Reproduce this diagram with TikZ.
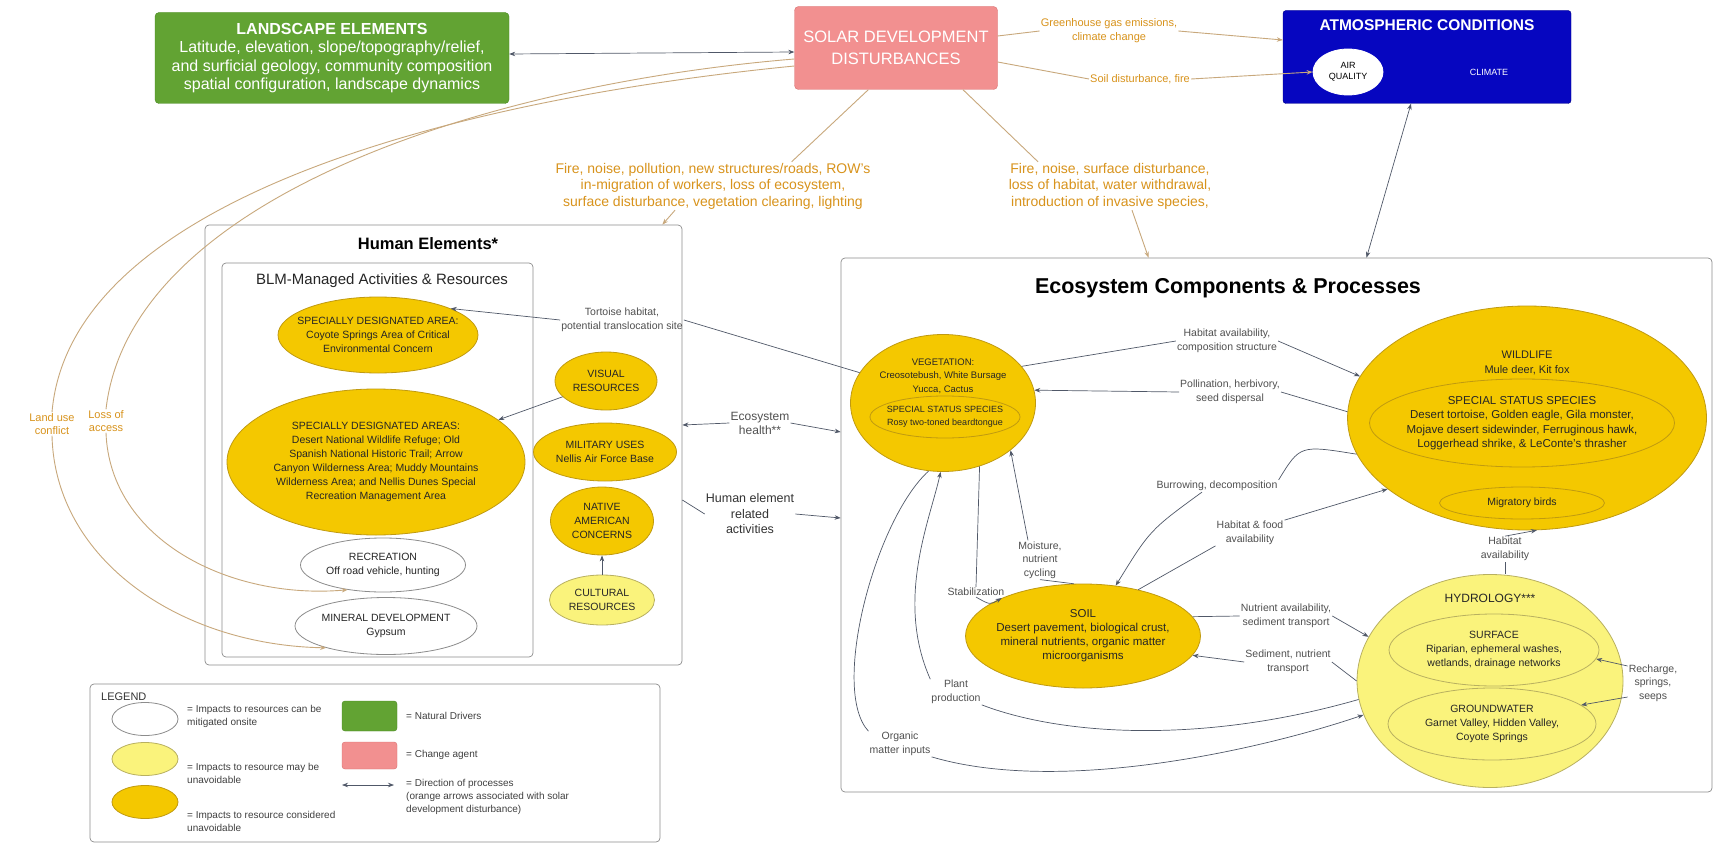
\documentclass[tikz,border=0pt]{standalone}
\usepackage{fontspec}
\setmainfont{Liberation Sans}
\usetikzlibrary{arrows.meta,shapes.geometric,calc}
\definecolor{landgreen}{HTML}{62A333}
\definecolor{landgreenD}{HTML}{4A8A22}
\definecolor{solarpink}{HTML}{F29090}
\definecolor{solarpinkD}{HTML}{D87070}
\definecolor{atmblue}{HTML}{0606C0}
\definecolor{goldfill}{HTML}{F4C800}
\definecolor{goldline}{HTML}{C09A10}
\definecolor{lyfill}{HTML}{FAF37C}
\definecolor{lyline}{HTML}{B8B060}
\definecolor{orangetxt}{HTML}{D8931C}
\definecolor{tanline}{HTML}{C8A87C}
\definecolor{ecoline}{HTML}{505868}
\definecolor{graytxt}{HTML}{505050}
\definecolor{boxgray}{HTML}{8C8C8C}
\begin{document}
\begin{tikzpicture}[x=1pt,y=-1pt,
  every node/.style={inner sep=1pt},
  ell/.style={ellipse, draw, inner sep=0pt, line width=0.8pt},
  goldell/.style={ell, fill=goldfill, draw=goldline},
  lyell/.style={ell, fill=lyfill, draw=lyline},
  whell/.style={ell, fill=white, draw=boxgray},
  etxt/.style={align=center, font=\fontsize{10.5}{14}\selectfont, text=black!85},
  olab/.style={align=center, font=\fontsize{14}{16.5}\selectfont, text=orangetxt},
  glab/.style={align=center, font=\fontsize{10.5}{13.5}\selectfont, text=graytxt},
  legtxt/.style={align=left, font=\fontsize{10}{13}\selectfont, text=black!75},
  frame/.style={draw=boxgray, rounded corners=4pt, line width=0.7pt},
  tconn/.style={draw=tanline, line width=0.9pt},
  econn/.style={draw=ecoline, line width=0.7pt},
  hconn/.style={draw=ecoline, line width=0.7pt},
  arr/.style={-{Stealth[length=6pt,width=4.5pt]}},
  rarr/.style={{Stealth[length=6pt,width=4.5pt]}-},
  darr/.style={{Stealth[length=6pt,width=4.5pt]}-{Stealth[length=6pt,width=4.5pt]}}
]
\useasboundingbox (0,0) rectangle (1715,845);
\fill[white] (0,0) rectangle (1715,845);

% ---------- frames ----------
\node[frame, minimum width=477pt, minimum height=440pt] (human) at (443.5,445) {};
\node[frame, minimum width=311pt, minimum height=394pt] (blm) at (377.5,460) {};
\node[frame, minimum width=871pt, minimum height=534pt] (eco) at (1276.5,525) {};
\node[frame, minimum width=570pt, minimum height=158pt] (legend) at (375,763) {};

\node[font=\bfseries\fontsize{16.5}{20}\selectfont] (humantitle) at (428,244) {Human Elements*};
\node[font=\fontsize{15}{18}\selectfont, text=black!85] (blmtitle) at (382,281) {BLM-Managed Activities \& Resources};
\node[font=\bfseries\fontsize{21.5}{25}\selectfont] (ecotitle) at (1228,288) {Ecosystem Components \& Processes};

% ---------- top boxes ----------
\node[fill=landgreen, draw=landgreenD, rounded corners=4pt, minimum width=354pt, minimum height=91pt,
      text=white, align=center, font=\fontsize{16}{18.5}\selectfont] (land) at (332,58)
  {\textbf{LANDSCAPE ELEMENTS}\\Latitude, elevation, slope/topography/relief,\\and surficial geology, community composition\\spatial configuration, landscape dynamics};
\node[fill=solarpink, draw=solarpinkD, rounded corners=4pt, minimum width=203pt, minimum height=83pt,
      text=white, align=center, font=\fontsize{16.5}{22}\selectfont] (solar) at (896,48)
  {SOLAR DEVELOPMENT\\DISTURBANCES};
\node[fill=atmblue, draw=atmblue!70!black, rounded corners=3pt, minimum width=288pt, minimum height=93pt] (atmos) at (1427,57) {};
\node[text=white, font=\bfseries\fontsize{15.5}{18}\selectfont] (atmostitle) at (1427,25) {ATMOSPHERIC CONDITIONS};
\node[ell, fill=white, draw=white, minimum width=70pt, minimum height=46pt, align=center,
      font=\fontsize{9}{11}\selectfont] (airq) at (1348,72) {AIR\\QUALITY};
\node[text=white, font=\fontsize{9}{11}\selectfont] (climate) at (1489,72) {CLIMATE};

% ---------- orange labels ----------
\node[olab, font=\fontsize{11}{14}\selectfont] (ghg) at (1109,31) {Greenhouse gas emissions,\\climate change};
\node[olab, font=\fontsize{11}{14}\selectfont] (sdist) at (1140,79) {Soil disturbance, fire};
\node[olab] (fire1) at (713,186) {Fire, noise, pollution, new structures/roads, ROW's\\in-migration of workers, loss of ecosystem,\\surface disturbance, vegetation clearing, lighting};
\node[olab] (fire2) at (1110,186) {Fire, noise, surface disturbance,\\loss of habitat, water withdrawal,\\introduction of invasive species,};
\node[olab, font=\fontsize{11}{13}\selectfont] (lac) at (52,424) {Land use\\conflict};
\node[olab, font=\fontsize{11}{13}\selectfont] (loa) at (106,421) {Loss of\\access};

% ---------- human side ----------
\node[goldell, minimum width=200pt, minimum height=76pt] (sda1) at (378,335) {};
\node[etxt] (sda1t) at (sda1) {SPECIALLY DESIGNATED AREA:\\Coyote Springs Area of Critical\\Environmental Concern};
\node[goldell, minimum width=298pt, minimum height=146pt] (sda2) at (376,462) {};
\node[etxt] (sda2t) at (sda2) {SPECIALLY DESIGNATED AREAS:\\Desert National Wildlife Refuge; Old\\Spanish National Historic Trail; Arrow\\Canyon Wilderness Area; Muddy Mountains\\Wilderness Area; and Nellis Dunes Special\\Recreation Management Area};
\node[whell, minimum width=165pt, minimum height=54pt] (rec) at (383,565) {};
\node[etxt] (rect) at (rec) {RECREATION\\Off road vehicle, hunting};
\node[whell, minimum width=182pt, minimum height=57pt] (mine) at (386,626) {};
\node[etxt] (minet) at (mine) {MINERAL DEVELOPMENT\\Gypsum};
\node[goldell, minimum width=102pt, minimum height=58pt] (vis) at (606,381) {};
\node[etxt] (vist) at (vis) {VISUAL\\RESOURCES};
\node[goldell, minimum width=143pt, minimum height=58pt] (mil) at (605,452) {};
\node[etxt] (milt) at (mil) {MILITARY USES\\Nellis Air Force Base};
\node[goldell, minimum width=103pt, minimum height=68pt] (nat) at (602,521) {};
\node[etxt] (natt) at (nat) {NATIVE\\AMERICAN\\CONCERNS};
\node[lyell, minimum width=105pt, minimum height=50pt] (cult) at (602,600) {};
\node[etxt] (cultt) at (cult) {CULTURAL\\RESOURCES};

\node[glab] (tort) at (622,320) {Tortoise habitat,\\potential translocation site};
\node[glab, font=\fontsize{12}{14}\selectfont] (eh) at (760,423) {Ecosystem\\health**};
\node[align=center, font=\fontsize{12.5}{15.5}\selectfont, text=black!80] (hera) at (750,514) {Human element\\related\\activities};

% ---------- ecosystem ----------
\node[goldell, minimum width=185pt, minimum height=137pt] (veg) at (943,403) {};
\node[etxt, font=\fontsize{9.5}{13.5}\selectfont] (vegt) at (943,376) {VEGETATION:\\Creosotebush, White Bursage\\Yucca, Cactus};
\node[goldell, minimum width=150pt, minimum height=42pt] (vegss) at (945,417) {};
\node[etxt, font=\fontsize{9}{12.5}\selectfont] (vegsst) at (vegss) {SPECIAL STATUS SPECIES\\Rosy two-toned beardtongue};

\node[goldell, minimum width=359pt, minimum height=224pt] (wild) at (1527,418) {};
\node[etxt, font=\fontsize{11}{14.5}\selectfont] (wildt) at (1527,363) {WILDLIFE\\Mule deer, Kit fox};
\node[goldell, minimum width=305pt, minimum height=88pt] (wildss) at (1522,423) {};
\node[etxt, font=\fontsize{11.5}{14.5}\selectfont] (wildsst) at (wildss) {SPECIAL STATUS SPECIES\\Desert tortoise, Golden eagle, Gila monster,\\Mojave desert sidewinder, Ferruginous hawk,\\Loggerhead shrike, \& LeConte's thrasher};
\node[goldell, minimum width=165pt, minimum height=32pt] (mig) at (1522,503) {};
\node[etxt] (migt) at (mig) {Migratory birds};

\node[goldell, minimum width=235pt, minimum height=104pt] (soil) at (1083,636) {};
\node[etxt, font=\fontsize{11.5}{14}\selectfont] (soilt) at (soil) {SOIL\\Desert pavement, biological crust,\\mineral nutrients, organic matter\\microorganisms};

\node[lyell, minimum width=266pt, minimum height=213pt] (hydro) at (1490,681) {};
\node[etxt, font=\fontsize{12}{14}\selectfont] (hydrot) at (1490,598) {HYDROLOGY***};
\node[lyell, minimum width=210pt, minimum height=72pt] (surf) at (1494,650) {};
\node[etxt] (surft) at (surf) {SURFACE\\Riparian, ephemeral washes,\\wetlands, drainage networks};
\node[lyell, minimum width=208pt, minimum height=72pt] (gw) at (1492,724) {};
\node[etxt] (gwt) at (gw) {GROUNDWATER\\Garnet Valley, Hidden Valley,\\Coyote Springs};

\node[glab] (habavail) at (1227,341) {Habitat availability,\\composition structure};
\node[glab] (pollin) at (1230,392) {Pollination, herbivory,\\seed dispersal};
\node[glab] (burrow) at (1217,486) {Burrowing, decomposition};
\node[glab] (habfood) at (1250,533) {Habitat \& food\\availability};
\node[glab] (moist) at (1040,560) {Moisture,\\nutrient\\cycling};
\node[glab] (stab) at (976,592) {Stabilization};
\node[glab] (nutr) at (1286,616) {Nutrient availability,\\sediment transport};
\node[glab] (sed) at (1288,662) {Sediment, nutrient\\transport};
\node[glab] (plant) at (956,692) {Plant\\production};
\node[glab] (organic) at (900,744) {Organic\\matter inputs};
\node[glab] (habav2) at (1505,549) {Habitat\\availability};
\node[glab] (recharge) at (1653,683) {Recharge,\\springs,\\seeps};

% ---------- legend ----------
\node[font=\fontsize{11}{13}\selectfont, text=black!80, anchor=west] (legt) at (100,697) {LEGEND};
\node[whell, minimum width=66pt, minimum height=33pt] (lg1) at (145,719) {};
\node[lyell, minimum width=66pt, minimum height=33pt] (lg2) at (145,759) {};
\node[goldell, minimum width=66pt, minimum height=33pt] (lg3) at (145,802) {};
\node[legtxt, anchor=north west] (lg1t) at (186,704) {= Impacts to resources can be\\mitigated onsite};
\node[legtxt, anchor=north west] (lg2t) at (186,762) {= Impacts to resource may be\\unavoidable};
\node[legtxt, anchor=north west] (lg3t) at (186,810) {= Impacts to resource considered\\unavoidable};
\node[fill=landgreen, draw=landgreenD, rounded corners=3pt, minimum width=55pt, minimum height=30pt] (lg4) at (369.5,716) {};
\node[legtxt, anchor=west] (lg4t) at (405,716) {= Natural Drivers};
\node[fill=solarpink, draw=solarpinkD, rounded corners=3pt, minimum width=55pt, minimum height=27pt] (lg5) at (369.5,755.5) {};
\node[legtxt, anchor=west] (lg5t) at (405,755) {= Change agent};
\coordinate (lga) at (342,785);
\coordinate (lgb) at (394,785);
\draw[hconn, darr] (lga) -- (lgb);
\node[legtxt, anchor=north west] (lg6t) at (405,778) {= Direction of processes\\(orange arrows associated with solar\\development disturbance)};

% ---------- connectors: top ----------
\draw[hconn, darr] ($(land.east)+(0,-4)$) -- ($(solar.west)+(0,4)$);
\draw[tconn] ($(solar.east)+(0,-12)$) -- (ghg.west);
\draw[tconn, arr] (ghg.east) -- ($(atmos.west)+(0,-17)$);
\draw[tconn] ($(solar.east)+(0,14)$) -- (sdist.west);
\draw[tconn, arr] (sdist.east) -- (airq.west);
\draw[tconn] ($(solar.south west)+(74,0)$) -- ($(fire1.north east)+(-80,0)$);
\draw[tconn, arr] ($(fire1.south)+(-38,0)$) -- ($(human.north east)+(-20,0)$);
\draw[tconn] ($(solar.south)+(67,0)$) -- ($(fire2.north)+(-72,0)$);
\draw[tconn, arr] ($(fire2.south)+(22,0)$) -- ($(eco.north)+(-128,0)$);
\draw[tconn] ($(solar.west)+(0,18)$) .. controls (450,100) and (70,200) .. (lac.north);
\draw[tconn, arr] (lac.south) .. controls (55,560) and (180,645) .. (mine.200);
\draw[tconn] ($(solar.west)+(0,11)$) .. controls (480,85) and (130,200) .. (loa.north);
\draw[tconn, arr] (loa.south) .. controls (110,540) and (230,600) .. (rec.215);
\draw[hconn, darr] ($(atmos.south)+(-16,0)$) -- ($(eco.north)+(90,0)$);

% ---------- connectors: human side ----------
\draw[econn] (veg.160) -- (tort.east);
\draw[econn, arr] (tort.west) -- (sda1.20);
\draw[hconn, arr] (vis.200) -- (sda2.19);
\draw[hconn, rarr] ($(human.east)+(0,-20)$) -- (eh.west);
\draw[hconn, arr] (eh.east) -- ($(eco.west)+(0,-93)$);
\draw[hconn] ($(human.east)+(0,55)$) -- (hera.west);
\draw[hconn, arr] (hera.east) -- ($(eco.west)+(0,-7)$);
\draw[hconn, arr] (cult.north) -- (nat.south);

% ---------- connectors: ecosystem ----------
\draw[econn] (veg.25) -- (habavail.west);
\draw[econn, arr] (habavail.east) -- (wild.166);
\draw[econn] (wild.178) -- (pollin.east);
\draw[econn, arr] (pollin.west) -- (veg.8);
\draw[econn] (wild.192) .. controls (1300,445) .. (burrow.north east);
\draw[econn, arr] ($(burrow.south)+(-15,0)$) .. controls (1150,530) .. (soil.57);
\draw[econn] (soil.40) -- (habfood.south west);
\draw[econn, arr] (habfood.north east) -- (wild.207);
\draw[econn] (veg.-60) -- (stab.north);
\draw[econn, arr] (stab.south) .. controls (990,605) .. (soil.155);
\draw[econn] (soil.100) -- (moist.south);
\draw[econn, arr] ($(moist.north)+(-12,0)$) -- (veg.-35);
\draw[econn] (hydro.188) .. controls (1200,745) and (1060,735) .. (plant.south east);
\draw[econn, arr] (plant.north west) .. controls (895,600) and (930,520) .. (veg.268);
\draw[econn] (veg.258) .. controls (875,520) and (830,690) .. (organic.north west);
\draw[econn, arr] (organic.south east) .. controls (1060,795) and (1260,750) .. (hydro.195);
\draw[econn] (soil.10) -- (nutr.west);
\draw[econn, arr] (nutr.east) -- (hydro.160);
\draw[econn] (hydro.180) -- (sed.east);
\draw[econn, arr] (sed.west) -- (soil.-10);
\draw[econn, arr] ($(recharge.west)+(0,-17)$) -- (surf.-5);
\draw[econn, arr] ($(recharge.west)+(0,14)$) -- (gw.12);
\draw[econn] ($(hydro.north)+(15,0)$) -- (habav2.south);
\draw[econn, arr] (habav2.north) -- (wild.-85);
\end{tikzpicture}
\end{document}
